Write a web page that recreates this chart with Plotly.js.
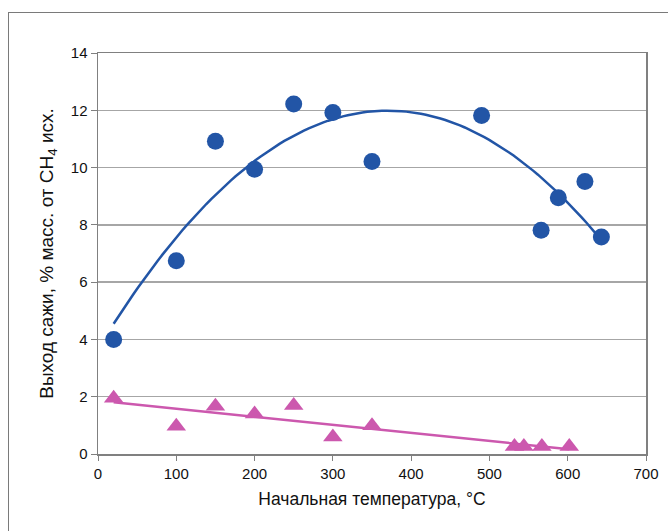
<!DOCTYPE html>
<html><head><meta charset="utf-8">
<script src="https://cdn.plot.ly/plotly-3.0.1.min.js"></script>
<style>
html,body{margin:0;padding:0;background:#fff;}
#frame{position:absolute;left:8px;top:12px;width:700px;height:560px;border-top:1.5px solid #7a7a7a;border-left:1.5px solid #7a7a7a;pointer-events:none;}
#chart{width:668px;height:531px;}
</style></head>
<body>
<div id="chart"></div>
<div id="frame"></div>
<script>
// Blue series (circles): soot yield
const tempBlue = [20, 100, 150, 200, 250, 300, 350, 490, 566, 588, 622, 643];
const yieldBlue = [4.0, 6.75, 10.92, 9.94, 12.22, 11.92, 10.21, 11.82, 7.81, 8.95, 9.51, 7.58];
// Pink series (triangles)
const tempPink = [20, 100, 150, 200, 250, 300, 350, 532, 544, 567, 602];
const yieldPink = [1.95, 0.97, 1.67, 1.40, 1.69, 0.59, 0.99, 0.26, 0.26, 0.26, 0.26];

const xTicks = [0, 100, 200, 300, 400, 500, 600, 700];
const yTicks = [0, 2, 4, 6, 8, 10, 12, 14];

// least-squares polynomial fit (trendline), computed from the data
function polyfit(xs, ys, deg) {
  const n = deg + 1;
  const A = Array.from({length: n}, () => new Array(n + 1).fill(0));
  for (let k = 0; k < xs.length; k++) {
    for (let i = 0; i < n; i++) {
      for (let j = 0; j < n; j++) A[i][j] += Math.pow(xs[k], i + j);
      A[i][n] += ys[k] * Math.pow(xs[k], i);
    }
  }
  for (let i = 0; i < n; i++) {
    let p = i;
    for (let r = i + 1; r < n; r++) if (Math.abs(A[r][i]) > Math.abs(A[p][i])) p = r;
    [A[i], A[p]] = [A[p], A[i]];
    for (let r = 0; r < n; r++) {
      if (r === i) continue;
      const f = A[r][i] / A[i][i];
      for (let c = i; c <= n; c++) A[r][c] -= f * A[i][c];
    }
  }
  return A.map((row, i) => row[n] / row[i]);
}
function fitLine(xs, ys, deg) {
  const c = polyfit(xs, ys, deg);
  const x0 = Math.min(...xs), x1 = Math.max(...xs);
  const fx = [], fy = [];
  for (let i = 0; i <= 100; i++) {
    const x = x0 + (x1 - x0) * i / 100;
    fx.push(x);
    fy.push(c.reduce((s, ci, k) => s + ci * Math.pow(x, k), 0));
  }
  return {fx, fy};
}
const blueFit = fitLine(tempBlue, yieldBlue, 2);
const pinkFit = fitLine(tempPink, yieldPink, 1);

const blue = '#2255a6';
const pink = '#cc58ae';

const traces = [
  {x: blueFit.fx, y: blueFit.fy, mode: 'lines', line: {color: blue, width: 2.5}, hoverinfo: 'skip'},
  {x: pinkFit.fx, y: pinkFit.fy, mode: 'lines', line: {color: pink, width: 2.5}, hoverinfo: 'skip'},
  {x: tempBlue, y: yieldBlue, mode: 'markers', marker: {symbol: 'circle', size: 17, color: blue}},
  {x: tempPink, y: yieldPink, mode: 'markers', marker: {symbol: 'triangle-up', size: 17, color: pink}}
];

const fam = 'Arial, "Liberation Sans", sans-serif';
const axFont = {family: fam, size: 15, color: '#111'};
const layout = {
  width: 668, height: 531,
  margin: {l: 98, r: 22, t: 53, b: 77},
  paper_bgcolor: '#fff', plot_bgcolor: '#fff',
  showlegend: false,
  font: axFont,
  xaxis: {
    range: [0, 700], tickvals: xTicks, ticktext: xTicks.map(String),
    showgrid: false, zeroline: false,
    showline: true, linecolor: '#808080', linewidth: 1.5, mirror: true,
    ticks: 'outside', ticklen: 5, tickcolor: '#808080', tickfont: axFont,
    title: {text: 'Начальная температура, °C', font: {family: fam, size: 17.5, color: '#111'}, standoff: 12}
  },
  yaxis: {
    range: [0, 14], tickvals: yTicks, ticktext: yTicks.map(String),
    showgrid: true, gridcolor: '#a6a6a6', gridwidth: 1.5, zeroline: false,
    showline: true, linecolor: '#808080', linewidth: 1.5, mirror: true,
    ticks: 'outside', ticklen: 6, tickcolor: '#808080', tickfont: axFont,
    title: {text: 'Выход сажи, % масс. от CH<sub>4</sub> исх.', font: {family: fam, size: 19, color: '#111'}, standoff: 12}
  }
};
Plotly.newPlot('chart', traces, layout, {staticPlot: true, displayModeBar: false});
</script>
</body></html>
